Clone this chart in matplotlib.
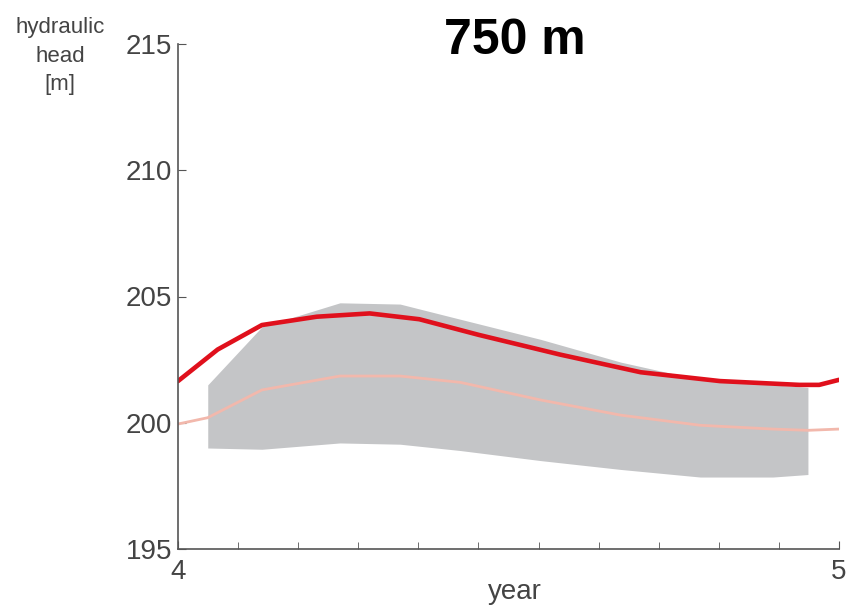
import numpy as np
import matplotlib
matplotlib.use('Agg')
import matplotlib.pyplot as plt

# values
t_main = [4.0, 4.06, 4.127, 4.21, 4.29, 4.365, 4.455, 4.578, 4.70, 4.82, 4.94, 4.97, 5.0]
h_main = [201.65, 202.9, 203.87, 204.2, 204.33, 204.1, 203.48, 202.7, 202.0, 201.65, 201.5, 201.5, 201.7]

t_band = [4.045, 4.127, 4.245, 4.336, 4.427, 4.549, 4.67, 4.79, 4.90, 4.953]
band_hi = [201.5, 203.8, 204.75, 204.7, 204.1, 203.3, 202.4, 201.7, 201.5, 201.4]
band_lo = [199.0, 198.95, 199.2, 199.15, 198.9, 198.5, 198.15, 197.85, 197.85, 197.95]

t_mean = [4.0, 4.045, 4.127, 4.245, 4.336, 4.427, 4.549, 4.67, 4.79, 4.90, 4.953, 5.0]
h_mean = [199.95, 200.2, 201.3, 201.85, 201.85, 201.6, 200.9, 200.3, 199.9, 199.75, 199.7, 199.75]

plt.rcParams['font.family'] = ['Liberation Sans', 'DejaVu Sans']
fig = plt.figure(figsize=(8.48, 6.11), dpi=100)
ax = fig.add_axes([178/848, 1-549/611, (839-178)/848, (549-44)/611])

ax.fill_between(t_band, band_lo, band_hi, color='#c4c5c7', lw=0)
ax.plot(t_mean, h_mean, color='#f2b8ac', lw=2)
ax.plot(t_main, h_main, color='#e0101c', lw=3.3, solid_capstyle='round')

ax.set_xlim(4, 5)
ax.set_ylim(195, 215)
ax.set_xticks([4, 5])
ax.set_xticks(np.arange(1, 11) / 11 + 4, minor=True)
ax.set_yticks([195, 200, 205, 210, 215])
for s in ['top', 'right']:
    ax.spines[s].set_visible(False)
for s in ['left', 'bottom']:
    ax.spines[s].set_color('#555555')
    ax.spines[s].set_linewidth(1.2)
ax.tick_params(axis='both', direction='in', colors='#555555', labelcolor='#444444',
               labelsize=20, length=6)
ax.tick_params(axis='x', which='minor', direction='in', length=5, colors='#555555')
ax.tick_params(axis='y', pad=4)
ax.tick_params(axis='x', pad=7)

fig.text(515/848, 1-41/611, '750 m', ha='center', va='center',
         fontsize=36, fontweight='bold', color='black')
fig.text(60/848, 1-56/611, 'hydraulic\nhead\n[m]', ha='center', va='center',
         fontsize=16, color='#444444', linespacing=1.45)
fig.text(515/848, 1-599/611, 'year', ha='center', va='baseline',
         fontsize=20, color='#444444')

fig.savefig('out.png', dpi=100)
